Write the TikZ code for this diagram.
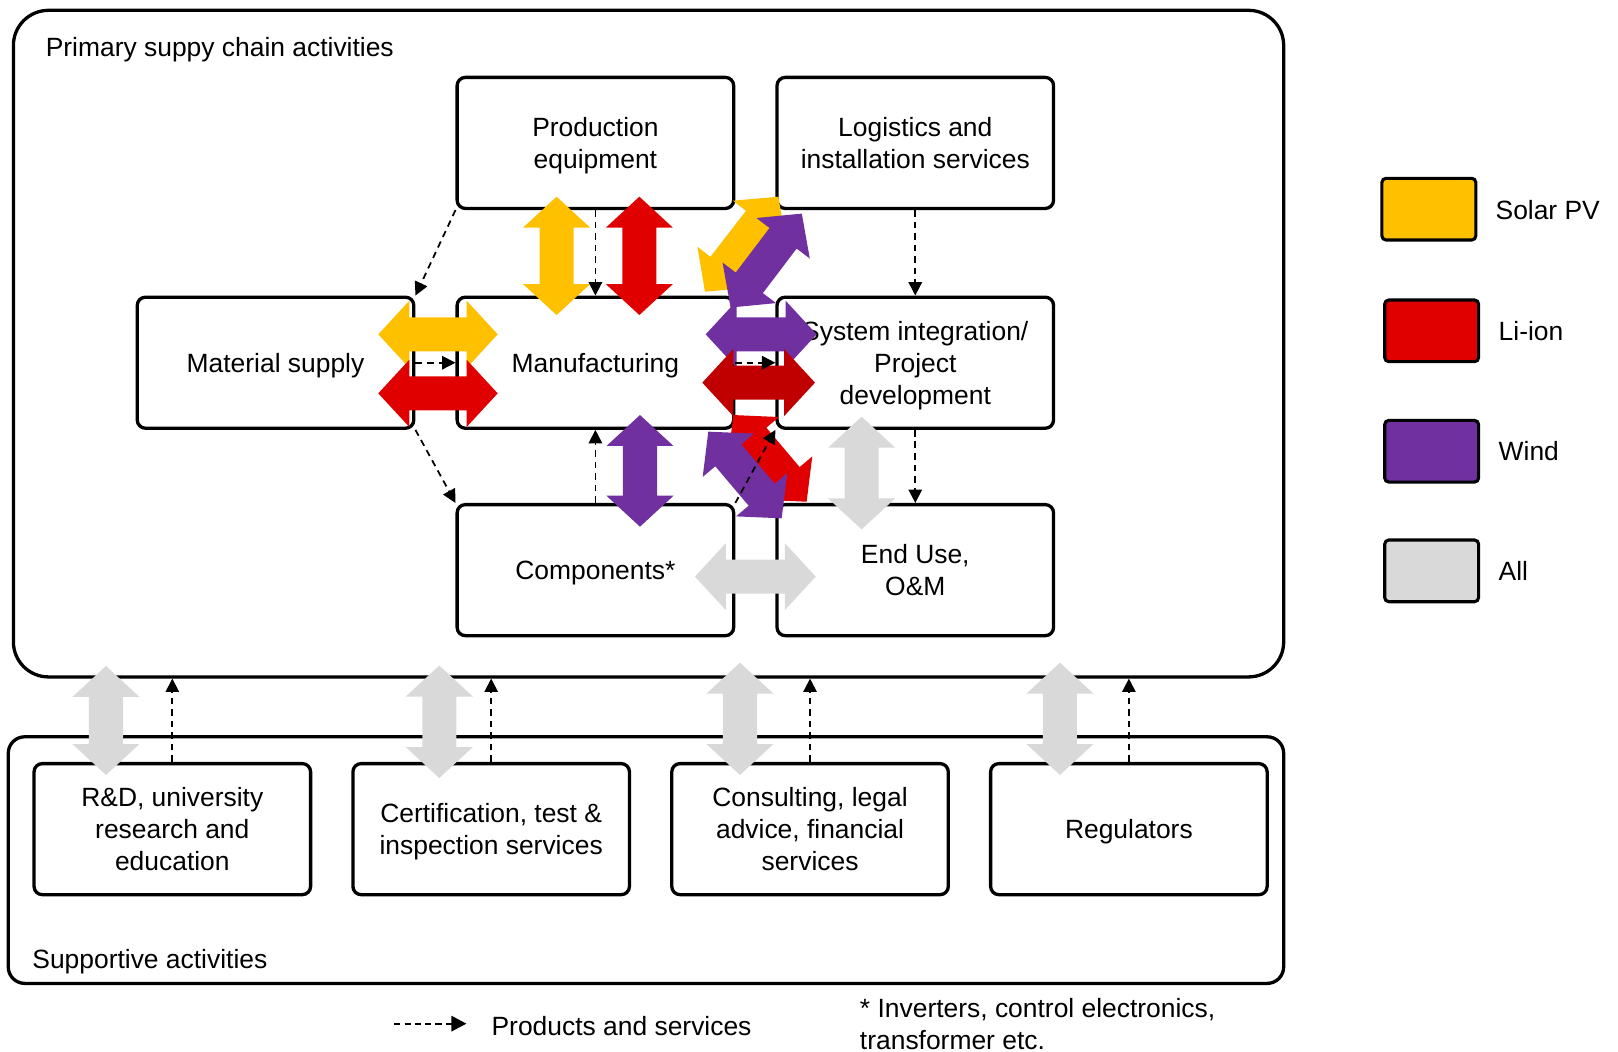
\documentclass[tikz,border=0pt]{standalone}
\usepackage{fontspec}
\setmainfont{Liberation Sans}
\usetikzlibrary{calc,arrows.meta}
\definecolor{cSolar}{HTML}{FFC000}
\definecolor{cLiion}{HTML}{E00000}
\definecolor{cLiionDark}{HTML}{C00000}
\definecolor{cWind}{HTML}{7030A0}
\definecolor{cAll}{HTML}{D9D9D9}
% double block arrow from #2 to #3 filled with colour #1
\newcommand{\dblarr}[3]{%
  \path (#2) coordinate (dA) (#3) coordinate (dB);
  \path ($(dA)!15pt!(dB)$) coordinate (dH1) ($(dB)!15pt!(dA)$) coordinate (dH2);
  \fill[#1] (dA) -- ($(dH1)!16.25pt!90:(dB)$) -- ($(dH1)!8.25pt!90:(dB)$)
    -- ($(dH2)!8.25pt!-90:(dA)$) -- ($(dH2)!16.25pt!-90:(dA)$) -- (dB)
    -- ($(dH2)!16.25pt!90:(dA)$) -- ($(dH2)!8.25pt!90:(dA)$)
    -- ($(dH1)!8.25pt!-90:(dB)$) -- ($(dH1)!16.25pt!-90:(dB)$) -- cycle;
}
\begin{document}
\begin{tikzpicture}[x=0.5pt,y=-0.5pt,
  font=\fontsize{12.8}{15.5}\selectfont,
  box/.style={draw, line width=1.6pt, rounded corners=4pt, minimum width=134pt,
    minimum height=63.5pt, inner sep=0pt, align=center, fill=white, text depth=0pt},
  frame/.style={draw, line width=1.6pt, inner sep=0pt},
  flow/.style={dash pattern=on 3.2pt off 2.4pt, line width=0.85pt,
    -{Triangle[length=6.5pt,width=6.5pt]}},
  legsq/.style={draw, line width=1.5pt, rounded corners=2pt, minimum width=45.5pt,
    minimum height=29.9pt, inner sep=0pt},
  lbl/.style={anchor=west, inner sep=0pt, text depth=0pt}]
\useasboundingbox (0,0) rectangle (1568,1019);

% frames
\node[frame, rounded corners=17pt, minimum width=615.5pt, minimum height=323pt]
  (primary) at (628.5,333) {};
\node[frame, rounded corners=8pt, minimum width=618pt, minimum height=119.5pt]
  (support) at (626,833.5) {};
\node[lbl] (ptitle) at (44,45) {Primary suppy chain activities};
\node[lbl] (stitle) at (31,929) {Supportive activities};

% primary boxes
\node[box] (prod) at (577,138.5) {Production\\equipment};
\node[box] (logi) at (887,138.5) {Logistics and\\installation services};
\node[box] (mat)  at (267,351.5) {Material supply};
\node[box] (manu) at (577,351.5) {Manufacturing};
\node[box] (sys)  at (887,351.5) {System integration/\\Project\\development};
\node[box] (comp) at (577,552.5) {Components*};
\node[box] (enduse) at (887,552.5) {End Use,\\O\&M};

% supportive boxes
\node[box] (rd)   at (167,803.5) {R\&D, university\\research and\\education};
\node[box] (cert) at (476,803.5) {Certification, test \&\\inspection services};
\node[box] (cons) at (785,803.5) {Consulting, legal\\advice, financial\\services};
\node[box] (reg)  at (1094,803.5) {Regulators};

% block arrows
\dblarr{cSolar}{539.4,190.6}{539.4,305.3}
\dblarr{cLiion}{619.6,190.6}{619.6,305.3}
\dblarr{cSolar}{366.6,324}{482.3,324}
\dblarr{cLiion}{366.6,381.2}{482.3,381.2}
\dblarr{cSolar}{683.2,282.7}{754.3,190.6}
\dblarr{cWind}{708,298}{777,207}
\dblarr{cWind}{683.9,324}{791.4,324}
\dblarr{cLiionDark}{680.6,370.8}{789.8,370.8}
\dblarr{cWind}{620.2,402.2}{620.2,510.4}
\dblarr{cLiion}{710.7,402.2}{781.7,486.2}
\dblarr{cWind}{686.4,418.3}{757.5,502.3}
\dblarr{cAll}{835,403.8}{835,513}
\dblarr{cAll}{673.5,558.8}{790.5,558.8}
\dblarr{cAll}{102.7,645.4}{102.7,751}
\dblarr{cAll}{425.7,645}{425.7,754}
\dblarr{cAll}{717.1,642.2}{717.1,751}
\dblarr{cAll}{1027.2,642.2}{1027.2,751}

% product / service flows
\draw[flow] (prod.south west) -- (mat.north east);
\draw[flow] (mat.south east) -- (comp.north west);
\draw[flow] (prod.south) -- (manu.north);
\draw[flow] (mat.east) -- (manu.west);
\draw[flow] (manu.east) -- (sys.west);
\draw[flow] (comp.north) -- (manu.south);
\draw[flow] (comp.north east) -- (sys.south west);
\draw[flow] (logi.south) -- (sys.north);
\draw[flow] (sys.south) -- (enduse.north);
\draw[flow] (rd.north) -- (rd.north |- primary.south);
\draw[flow] (cert.north) -- (cert.north |- primary.south);
\draw[flow] (cons.north) -- (cons.north |- primary.south);
\draw[flow] (reg.north) -- (reg.north |- primary.south);

% legend
\node[legsq, fill=cSolar] (lsolar) at (1384.7,202.7) {};
\node[legsq, fill=cLiion] (lliion) at (1387.4,320.6) {};
\node[legsq, fill=cWind]  (lwind)  at (1387.4,437.3) {};
\node[legsq, fill=cAll]   (lall)   at (1387.4,553.2) {};
\node[lbl] (tsolar) at (1449,203) {Solar PV};
\node[lbl] (tliion) at (1452,321) {Li-ion};
\node[lbl] (twind)  at (1452,437) {Wind};
\node[lbl] (tall)   at (1452,553) {All};

\coordinate (lgA) at (382,992);
\coordinate (lgB) at (452,992);
\draw[dash pattern=on 3pt off 2pt, line width=0.85pt,
  -{Triangle[length=7.3pt,width=7.5pt]}] (lgA) -- (lgB);
\node[lbl] (tprod) at (476,994) {Products and services};
\node[lbl, align=left] (tnote) at (833,992) {* Inverters, control electronics,\\transformer etc.};
\end{tikzpicture}
\end{document}
